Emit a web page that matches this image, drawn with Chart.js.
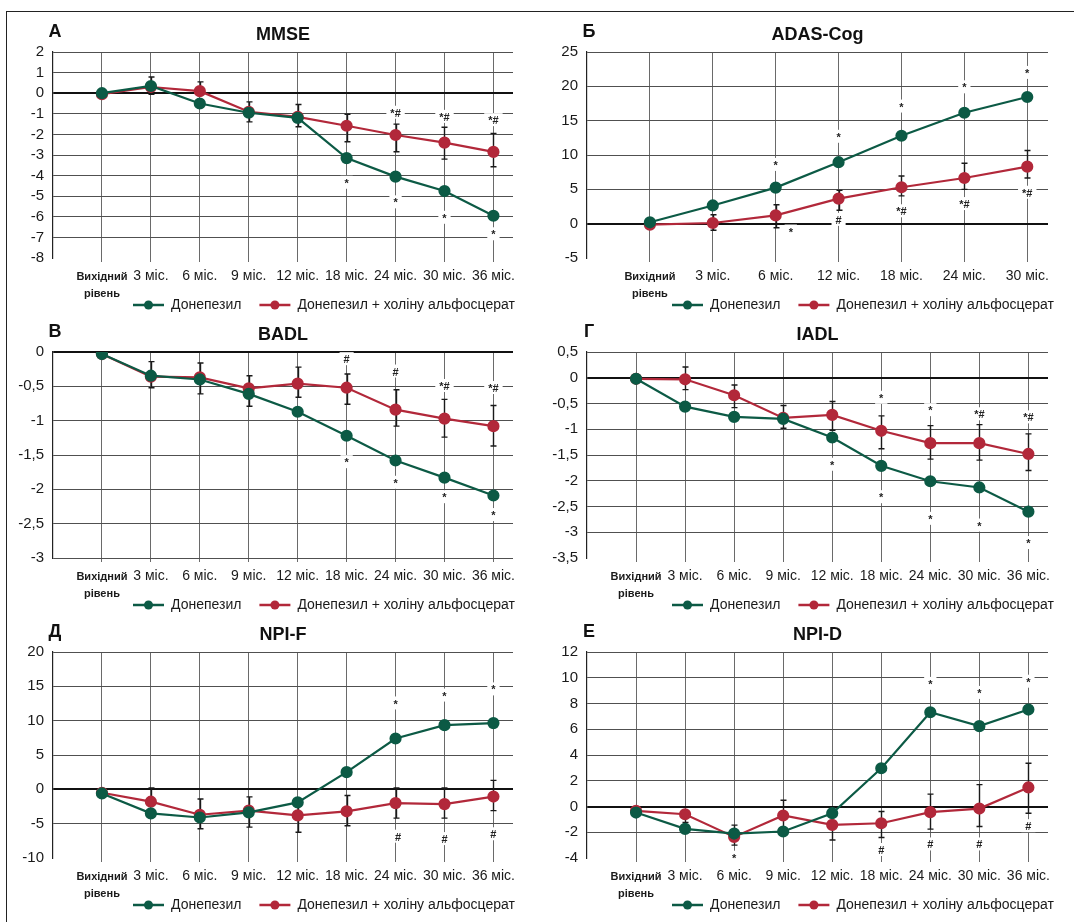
<!DOCTYPE html>
<html>
<head>
<meta charset="utf-8">
<script src="https://cdn.jsdelivr.net/npm/chart.js@4"></script>
<style>
html, body { margin: 0; padding: 0; background: #fff; overflow: hidden; }
#frame { position: absolute; left: 6px; top: 11px; width: 1100px; height: 1000px; border: 1.5px solid #222; }
.panel { position: absolute; }
</style>
</head>
<body>
<div id="frame"></div>
<canvas class="panel" id="pA" width="535" height="300" style="left:0;top:15px"></canvas>
<canvas class="panel" id="pB" width="539" height="300" style="left:535px;top:15px"></canvas>
<canvas class="panel" id="pV" width="535" height="300" style="left:0;top:315px"></canvas>
<canvas class="panel" id="pG" width="539" height="300" style="left:535px;top:315px"></canvas>
<canvas class="panel" id="pD" width="535" height="300" style="left:0;top:615px"></canvas>
<canvas class="panel" id="pE" width="539" height="300" style="left:535px;top:615px"></canvas>
<script>
// categories
const labels9 = [['Вихідний', 'рівень'], '3 міс.', '6 міс.', '9 міс.', '12 міс.', '18 міс.', '24 міс.', '30 міс.', '36 міс.'];
const labels7 = [['Вихідний', 'рівень'], '3 міс.', '6 міс.', '12 міс.', '18 міс.', '24 міс.', '30 міс.'];
const seriesNames = ['Донепезил', 'Донепезил + холіну альфосцерат'];

// A - MMSE
const ticksA = [2, 1, 0, -1, -2, -3, -4, -5, -6, -7, -8];
const donA = [0, 0.35, -0.5, -0.95, -1.2, -3.15, -4.05, -4.75, -5.95];
const comA = [-0.05, 0.3, 0.1, -0.9, -1.15, -1.58, -2.03, -2.4, -2.85];
const errHiA = [null, 0.79, 0.55, -0.42, -0.55, -1.02, -1.5, -1.65, -1.95];
const errLoA = [null, -0.05, 0.1, -1.39, -1.63, -2.36, -2.84, -3.2, -3.57];
const marksA = [[5, -4.3, '*'], [6, -5.25, '*'], [7, -6.0, '*'], [8, -6.8, '*'],
                [6, -0.9, '*#'], [7, -1.1, '*#'], [8, -1.26, '*#']];

// Б - ADAS-Cog
const ticksB = [25, 20, 15, 10, 5, 0, -5];
const donB = [0.2, 2.65, 5.25, 8.95, 12.8, 16.15, 18.45];
const comB = [-0.15, 0.1, 1.2, 3.65, 5.3, 6.65, 8.3];
const errHiB = [null, 1.3, 2.75, 4.85, 6.95, 8.8, 10.65];
const errLoB = [null, -0.95, -0.6, 1.95, 4.05, 5.0, 6.65];
const marksB = [[2, 8.7, '*'], [3, 12.8, '*'], [4, 17.2, '*'], [5, 20.0, '*'], [6, 22.1, '*'],
                [2.24, -1.0, '*'], [3, 0.7, '#'], [4, 1.95, '*#'], [5, 3.0, '*#'], [6, 4.65, '*#']];

// В - BADL
const ticksV = [0, -0.5, -1, -1.5, -2, -2.5, -3];
const donV = [-0.03, -0.345, -0.4, -0.61, -0.87, -1.22, -1.58, -1.83, -2.09];
const comV = [-0.03, -0.36, -0.37, -0.53, -0.46, -0.52, -0.84, -0.97, -1.08];
const errHiV = [null, -0.14, -0.16, -0.345, -0.22, -0.32, -0.55, -0.69, -0.78];
const errLoV = [null, -0.52, -0.61, -0.79, -0.66, -0.76, -1.08, -1.24, -1.37];
const marksV = [[5, -1.59, '*'], [6, -1.89, '*'], [7, -2.1, '*'], [8, -2.36, '*'],
                [5, -0.09, '#'], [6, -0.27, '#'], [7, -0.48, '*#'], [8, -0.51, '*#']];

// Г - IADL
const ticksG = [0.5, 0, -0.5, -1, -1.5, -2, -2.5, -3, -3.5];
const donG = [-0.02, -0.56, -0.76, -0.8, -1.16, -1.71, -2.01, -2.13, -2.6];
const comG = [-0.02, -0.03, -0.34, -0.78, -0.72, -1.03, -1.27, -1.27, -1.48];
const errHiG = [null, 0.21, -0.14, -0.54, -0.46, -0.74, -0.93, -0.91, -1.09];
const errLoG = [null, -0.23, -0.58, -0.98, -1.02, -1.38, -1.58, -1.6, -1.8];
const marksG = [[4, -1.67, '*'], [5, -2.3, '*'], [6, -2.72, '*'], [7, -2.85, '*'], [8, -3.19, '*'],
                [5, -0.37, '*'], [6, -0.61, '*'], [7, -0.69, '*#'], [8, -0.75, '*#']];

// Д - NPI-F
const ticksD = [20, 15, 10, 5, 0, -5, -10];
const donD = [-0.6, -3.5, -4.1, -3.35, -1.9, 2.5, 7.4, 9.35, 9.65];
const comD = [-0.5, -1.8, -3.7, -3.1, -3.8, -3.2, -2.0, -2.15, -1.05];
const errHiD = [null, 0.2, -1.4, -1.1, -1.4, -0.9, 0.2, 0.2, 1.3];
const errLoD = [null, -1.8, -5.75, -5.5, -6.25, -5.3, -4.2, -4.2, -3.1];
const marksD = [[6, 12.65, '*'], [7, 13.8, '*'], [8, 14.7, '*'],
                [6.05, -6.75, '#'], [7, -7.1, '#'], [8, -6.4, '#']];

// Е - NPI-D
const ticksE = [12, 10, 8, 6, 4, 2, 0, -2, -4];
const donE = [-0.47, -1.74, -2.1, -1.94, -0.52, 2.97, 7.32, 6.24, 7.53];
const comE = [-0.34, -0.6, -2.36, -0.7, -1.43, -1.3, -0.44, -0.16, 1.48];
const errHiE = [null, -0.6, -1.45, 0.49, -0.5, -0.39, 0.96, 1.7, 3.36];
const errLoE = [null, -1.24, -3.0, -1.9, -2.6, -2.41, -1.76, -1.55, -0.52];
const marksE = [[6, 9.6, '*'], [7, 8.9, '*'], [8, 9.77, '*'],
                [2, -3.9, '*'], [5, -3.3, '#'], [6, -2.87, '#'], [7, -2.87, '#'], [8, -1.45, '#']];

const GREEN = '#0c5a45';
const RED = '#b2283a';
const FONT = '"Liberation Sans", Arial, sans-serif';
Chart.defaults.font.family = FONT;
Chart.defaults.color = '#1a1a1a';

// letter, title, legend, error bars and significance marks
const decor = {
  id: 'decor',
  beforeDatasetsDraw(chart, args, o) {
    const { ctx, scales: { x, y } } = chart;
    ctx.save();
    ctx.font = 'bold 11px ' + FONT;
    ctx.textAlign = 'center';
    ctx.textBaseline = 'middle';
    o.marks.forEach(m => {
      const px = x.getPixelForValue(m[0]);
      const py = y.getPixelForValue(m[1]);
      const w = ctx.measureText(m[2]).width + 8;
      ctx.fillStyle = '#fff';
      ctx.fillRect(px - w / 2, py - 6, w, 13);
      ctx.fillStyle = '#222';
      ctx.fillText(m[2], px, py + 2);
    });
    ctx.strokeStyle = '#1a1a1a';
    ctx.lineWidth = 1.4;
    o.errHi.forEach((hi, i) => {
      const lo = o.errLo[i];
      if (hi == null) return;
      const px = Math.round(x.getPixelForValue(i)) + 0.5;
      const t = y.getPixelForValue(hi), b = y.getPixelForValue(lo);
      ctx.beginPath();
      ctx.moveTo(px, t); ctx.lineTo(px, b);
      ctx.moveTo(px - 3, t); ctx.lineTo(px + 3, t);
      ctx.moveTo(px - 3, b); ctx.lineTo(px + 3, b);
      ctx.stroke();
    });
    ctx.restore();
  },
  afterDraw(chart, args, o) {
    const { ctx, chartArea: a } = chart;
    ctx.save();
    ctx.fillStyle = '#111';
    ctx.textBaseline = 'middle';
    ctx.font = 'bold 18px ' + FONT;
    ctx.textAlign = 'center';
    ctx.fillText(o.letter, a.left + 2, 17);
    ctx.fillText(o.title, (a.left + a.right) / 2, 20);

    // legend
    ctx.font = '14px ' + FONT;
    ctx.textAlign = 'left';
    let lx = o.legendX;
    const ly = 290;
    chart.data.datasets.forEach(ds => {
      ctx.strokeStyle = ds.borderColor;
      ctx.lineWidth = 2.5;
      ctx.beginPath(); ctx.moveTo(lx, ly); ctx.lineTo(lx + 31, ly); ctx.stroke();
      ctx.fillStyle = ds.borderColor;
      ctx.beginPath(); ctx.arc(lx + 15.5, ly, 4.5, 0, Math.PI * 2); ctx.fill();
      ctx.fillStyle = '#1a1a1a';
      ctx.fillText(ds.label, lx + 38, ly);
      lx += 38 + ctx.measureText(ds.label).width + 18;
    });
    ctx.restore();
  }
};

function makePanel(id, p) {
  const pts = arr => arr.map((v, i) => ({ x: i, y: v }));
  const line = (label, data, color) => ({
    label, data: pts(data), borderColor: color, backgroundColor: color,
    borderWidth: 2.2, pointRadius: 5, pointHoverRadius: 5, tension: 0
  });
  const ymin = Math.min(...p.yTicks), ymax = Math.max(...p.yTicks);
  new Chart(document.getElementById(id), {
    type: 'line',
    data: {
      datasets: [line(seriesNames[0], p.don, GREEN), line(seriesNames[1], p.com, RED)]
    },
    options: {
      responsive: false,
      animation: false,
      events: [],
      layout: { padding: { top: 37, left: 0, right: p.right, bottom: 0 } },
      plugins: {
        legend: { display: false },
        tooltip: { enabled: false },
        decor: { letter: p.letter, title: p.title, marks: p.marks, errHi: p.errHi, errLo: p.errLo, legendX: p.legendX }
      },
      scales: {
        x: {
          type: 'linear',
          min: -1,
          max: p.xmax,
          afterBuildTicks: s => { s.ticks = p.labels.map((_, i) => ({ value: i })); },
          afterFit: s => { s.height = 57; },
          ticks: {
            autoSkip: false, maxRotation: 0, padding: 6, color: '#1a1a1a',
            font: c => c.index === 0 ? { size: 11, weight: 'bold', lineHeight: '17px' } : { size: 14, lineHeight: '17px' },
            callback: v => p.labels[v]
          },
          grid: { color: '#6a6a6a', lineWidth: 1, tickLength: 4 },
          border: { display: false }
        },
        y: {
          min: ymin,
          max: ymax,
          afterBuildTicks: s => { s.ticks = p.yTicks.map(v => ({ value: v })); },
          afterFit: s => { s.width = p.yw; },
          ticks: {
            autoSkip: false, padding: 9, color: '#1a1a1a', font: { size: 15 },
            callback: v => String(v).replace('.', ',')
          },
          grid: {
            drawTicks: false,
            color: c => (c.tick.value === ymin && !p.bottomLine) ? 'rgba(0,0,0,0)' : (c.tick.value === 0 ? '#111' : '#505050'),
            lineWidth: c => c.tick.value === 0 ? 2 : 1
          },
          border: { display: true, color: '#222', width: 1.2 }
        }
      }
    },
    plugins: [decor]
  });
}

const L = { right: 22, yw: 53, xmax: 8.4, labels: labels9, legendX: 133 };
const R = { right: 26, yw: 52, xmax: 8.4, labels: labels9, legendX: 137 };

makePanel('pA', { ...L, letter: 'А', title: 'MMSE', don: donA, com: comA, errHi: errHiA, errLo: errLoA, marks: marksA, yTicks: ticksA, bottomLine: false });
makePanel('pB', { ...R, xmax: 6.33, labels: labels7, letter: 'Б', title: 'ADAS-Cog', don: donB, com: comB, errHi: errHiB, errLo: errLoB, marks: marksB, yTicks: ticksB, bottomLine: false });
makePanel('pV', { ...L, letter: 'В', title: 'BADL', don: donV, com: comV, errHi: errHiV, errLo: errLoV, marks: marksV, yTicks: ticksV, bottomLine: true });
makePanel('pG', { ...R, letter: 'Г', title: 'IADL', don: donG, com: comG, errHi: errHiG, errLo: errLoG, marks: marksG, yTicks: ticksG, bottomLine: false });
makePanel('pD', { ...L, letter: 'Д', title: 'NPI-F', don: donD, com: comD, errHi: errHiD, errLo: errLoD, marks: marksD, yTicks: ticksD, bottomLine: false });
makePanel('pE', { ...R, letter: 'Е', title: 'NPI-D', don: donE, com: comE, errHi: errHiE, errLo: errLoE, marks: marksE, yTicks: ticksE, bottomLine: false });
</script>
</body>
</html>
